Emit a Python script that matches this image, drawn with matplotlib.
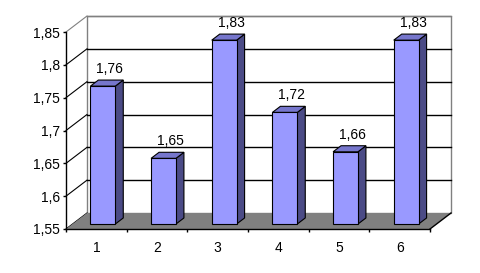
import matplotlib
matplotlib.use("Agg")
import matplotlib.pyplot as plt
from matplotlib.patches import Polygon

categories = ["1", "2", "3", "4", "5", "6"]
values = [1.76, 1.65, 1.83, 1.72, 1.66, 1.83]
value_labels = ["1,76", "1,65", "1,83", "1,72", "1,66", "1,83"]
yticks = [1.55, 1.60, 1.65, 1.70, 1.75, 1.80, 1.85]
ytick_labels = ["1,55", "1,6", "1,65", "1,7", "1,75", "1,8", "1,85"]

plt.rcParams['font.family'] = ['Liberation Sans', 'DejaVu Sans']

W, H = 480, 273
fig = plt.figure(figsize=(4.8, 2.73), dpi=100)
# front plane: x 66..430 px, y 229..32 px
PXC = 364 / 6.0          # px per category
PXV = 197 / 0.30         # px per value unit
DXPX, DYPX = 21, 16      # depth offset in px
DX = DXPX / PXC
DY = DYPX / PXV
ax = fig.add_axes([66 / W, (H - 229) / H, (364 + DXPX) / W, (197 + DYPX) / H])
ax.set_xlim(0.5, 6.5 + DX)
ymin, ymax = 1.55, 1.85
ax.set_ylim(ymin, ymax + DY)
for s in ax.spines.values():
    s.set_visible(False)
ax.patch.set_alpha(0)


def P(x, y, f):
    return (x + f * DX, y + f * DY)


# back wall
ax.add_patch(Polygon([P(0.5, ymin, 1), P(6.5, ymin, 1), P(6.5, ymax, 1), P(0.5, ymax, 1)],
                     closed=True, facecolor='white', edgecolor='#808080', lw=1, clip_on=False, zorder=1))
# floor
ax.add_patch(Polygon([P(0.5, ymin, 0), P(6.5, ymin, 0), P(6.5, ymin, 1), P(0.5, ymin, 1)],
                     closed=True, facecolor='#808080', edgecolor='none', clip_on=False, zorder=2))
ax.plot(*zip(P(6.5, ymin, 0), P(6.5, ymin, 1)), color='black', lw=1, clip_on=False, zorder=2)

# gridlines
for v in yticks:
    col = '#808080' if v == ymax else 'black'
    if v != ymin:
        ax.plot(*zip(P(0.5, v, 1), P(6.5, v, 1)), color=col, lw=1, clip_on=False, zorder=1.5)
    ax.plot(*zip(P(0.5, v, 0), P(0.5, v, 1)), color=col, lw=0.8, clip_on=False, zorder=1.5)

# bars
f0, f1 = 0.31, 0.69
bw = 0.41
for i, v in enumerate(values):
    c = i + 1
    x0, x1 = c - bw / 2, c + bw / 2
    side = [P(x1, ymin, f0), P(x1, ymin, f1), P(x1, v, f1), P(x1, v, f0)]
    top = [P(x0, v, f0), P(x1, v, f0), P(x1, v, f1), P(x0, v, f1)]
    front = [P(x0, ymin, f0), P(x1, ymin, f0), P(x1, v, f0), P(x0, v, f0)]
    ax.add_patch(Polygon(side, closed=True, facecolor='#4B4B86', edgecolor='black', lw=0.8, clip_on=False, zorder=3))
    ax.add_patch(Polygon(top, closed=True, facecolor='#7676CC', edgecolor='black', lw=0.8, clip_on=False, zorder=3))
    ax.add_patch(Polygon(front, closed=True, facecolor='#9999FF', edgecolor='black', lw=0.8, clip_on=False, zorder=3))
    lx, ly = P(c, v, 0.5)
    ax.text(lx + 3 / PXC, v + f1 * DY + 7 / PXV, value_labels[i], ha='center', va='baseline',
            fontsize=10, color='black', zorder=4)

# front axes
ax.plot([0.5, 0.5], [ymin, ymax], color='black', lw=1, clip_on=False, zorder=4)
ax.plot([0.5, 6.5], [ymin, ymin], color='black', lw=1, clip_on=False, zorder=4)

ax.set_yticks(yticks)
ax.set_yticklabels(ytick_labels, fontsize=10)
ax.tick_params(axis='y', direction='out', length=2.5, width=1, pad=2)
ax.set_xticks(range(1, 7))
ax.set_xticklabels(categories, fontsize=10)
ax.set_xticks([0.5 + k for k in range(7)], minor=True)
ax.tick_params(axis='x', which='major', length=0, pad=9)
ax.tick_params(axis='x', which='minor', direction='out', length=2.5, width=1)

fig.savefig("out.png", dpi=100)
